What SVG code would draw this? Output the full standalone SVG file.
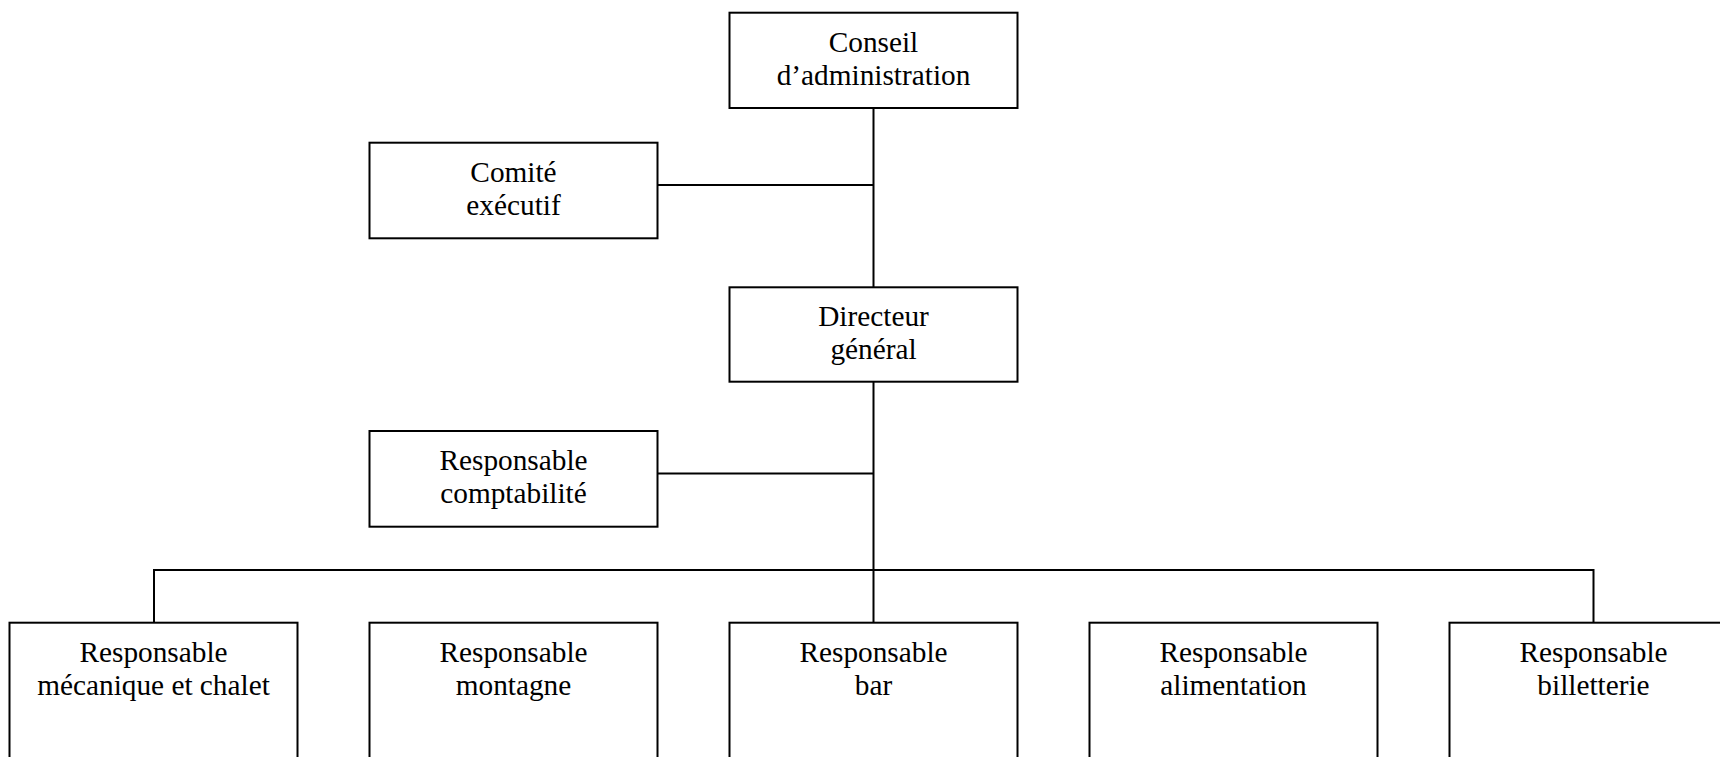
<svg xmlns="http://www.w3.org/2000/svg" width="1720" height="757" viewBox="0 0 1720 757">
<style>
.box{fill:#fff;stroke:#000;stroke-width:2}
.ln{fill:none;stroke:#000;stroke-width:2}
text{font-family:"Liberation Serif","Times New Roman",serif;font-size:29.3px;fill:#000;text-anchor:middle}
</style>
<rect width="1720" height="757" fill="#fff"/>
<g id="connectors">
<path class="ln" d="M873.5 108 V622.7"/>
<path class="ln" d="M657.7 185 H873.5"/>
<path class="ln" d="M657.7 473.5 H873.5"/>
<path class="ln" d="M154 622.7 V570 H1593.5 V622.7"/>
</g>
<g id="conseil">
<rect class="box" x="729.5" y="12.7" width="288" height="95.3"/>
<text x="873.5" y="51.7">Conseil</text>
<text x="873.5" y="84.7">d’administration</text>
</g>
<g id="comite">
<rect class="box" x="369.5" y="142.7" width="288" height="95.6"/>
<text x="513.5" y="181.7">Comité</text>
<text x="513.5" y="214.7">exécutif</text>
</g>
<g id="directeur">
<rect class="box" x="729.5" y="287.3" width="288" height="94.4"/>
<text x="873.5" y="326.3">Directeur</text>
<text x="873.5" y="359.3">général</text>
</g>
<g id="comptabilite">
<rect class="box" x="369.5" y="431" width="288" height="95.7"/>
<text x="513.5" y="470">Responsable</text>
<text x="513.5" y="503">comptabilité</text>
</g>
<g id="mecanique">
<rect class="box" x="9.5" y="622.7" width="288" height="200"/>
<text x="153.5" y="661.7">Responsable</text>
<text x="153.5" y="694.7">mécanique et chalet</text>
</g>
<g id="montagne">
<rect class="box" x="369.5" y="622.7" width="288" height="200"/>
<text x="513.5" y="661.7">Responsable</text>
<text x="513.5" y="694.7">montagne</text>
</g>
<g id="bar">
<rect class="box" x="729.5" y="622.7" width="288" height="200"/>
<text x="873.5" y="661.7">Responsable</text>
<text x="873.5" y="694.7">bar</text>
</g>
<g id="alimentation">
<rect class="box" x="1089.5" y="622.7" width="288" height="200"/>
<text x="1233.5" y="661.7">Responsable</text>
<text x="1233.5" y="694.7">alimentation</text>
</g>
<g id="billetterie">
<rect class="box" x="1449.5" y="622.7" width="288" height="200"/>
<text x="1593.5" y="661.7">Responsable</text>
<text x="1593.5" y="694.7">billetterie</text>
</g>
</svg>
